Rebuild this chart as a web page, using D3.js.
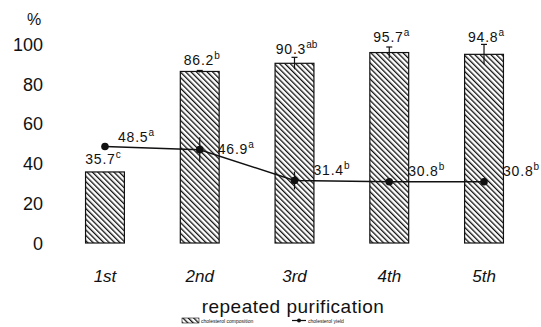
<!DOCTYPE html>
<html><head><meta charset="utf-8">
<script src="https://cdn.jsdelivr.net/npm/d3@7"></script>
<style>
body{margin:0;background:#fff;}
text{font-family:"Liberation Sans",Arial,sans-serif;fill:#111;}
</style></head>
<body>
<svg id="c" width="541" height="327"></svg>
<script>
const categories = ["1st","2nd","3rd","4th","5th"];
const compositionValues = [35.7, 86.2, 90.3, 95.7, 94.8];
const compositionErrors = [0, 0.5, 3, 2.8, 5];
const compositionLetters = ["c","b","ab","a","a"];
const yieldValues = [48.5, 46.9, 31.4, 30.8, 30.8];
const yieldErrors = [1, 6.3, 4.5, 1.5, 1.5];
const yieldLetters = ["a","a","b","b","b"];
const yTicks = [0,20,40,60,80,100];
const xTitle = "repeated purification";
const yUnit = "%";
const legendLabels = ["cholesterol composition","cholesterol yield"];

const svg = d3.select("#c");
const defs = svg.append("defs");
const pat = defs.append("pattern").attr("id","hatch").attr("patternUnits","userSpaceOnUse")
  .attr("width",3.8).attr("height",3.8).attr("patternTransform","rotate(-45)");
pat.append("rect").attr("width",3.8).attr("height",3.8).attr("fill","#fff");
pat.append("line").attr("x1",0).attr("y1",0).attr("x2",0).attr("y2",3.8).attr("stroke","#111").attr("stroke-width",2.6);

const x = d3.scaleBand().domain(categories).range([57.6,531.4]).paddingInner(0.59).paddingOuter(0.295);
const y = d3.scaleLinear().domain([0,100]).range([243,44]);
const cx = d => x(d) + x.bandwidth()/2;

// y axis labels (no line)
const yAxis = d3.axisLeft(y).tickValues(yTicks).tickSize(0).tickPadding(0);
const ga = svg.append("g").attr("transform","translate(43,0)").call(yAxis);
ga.select(".domain").remove();
ga.selectAll("text").style("font-size","18px").attr("fill","#111").attr("dy","0.35em");
svg.append("text").attr("x",34).attr("y",25).attr("text-anchor","middle").style("font-size","16px").text(yUnit);

// x axis labels
const xAxis = d3.axisBottom(x).tickSize(0).tickPadding(0);
const gx = svg.append("g").attr("transform","translate(0,282)").call(xAxis);
gx.select(".domain").remove();
gx.selectAll("text").style("font-size","17px").style("font-style","italic").attr("fill","#111").attr("dy","0");

// bars
svg.selectAll("rect.bar").data(categories).join("rect").attr("class","bar")
  .attr("x",d=>x(d)).attr("width",x.bandwidth())
  .attr("y",(d,i)=>y(compositionValues[i])).attr("height",(d,i)=>y(0)-y(compositionValues[i]))
  .attr("fill","url(#hatch)").attr("stroke","#111").attr("stroke-width",1.2);

// bar error bars
categories.forEach((c,i)=>{
  const e = compositionErrors[i]; if(!e) return;
  const v = compositionValues[i];
  svg.append("line").attr("x1",cx(c)).attr("x2",cx(c)).attr("y1",y(v+e)).attr("y2",y(v-e)).attr("stroke","#111").attr("stroke-width",1.2);
  svg.append("line").attr("x1",cx(c)-3).attr("x2",cx(c)+3).attr("y1",y(v+e)).attr("y2",y(v+e)).attr("stroke","#111").attr("stroke-width",1.2);
});

// line
const line = d3.line().x((d,i)=>cx(categories[i])).y(d=>y(d));
svg.append("path").datum(yieldValues).attr("d",line).attr("fill","none").attr("stroke","#111").attr("stroke-width",1.5);
categories.forEach((c,i)=>{
  const e = yieldErrors[i], v = yieldValues[i];
  svg.append("line").attr("x1",cx(c)).attr("x2",cx(c)).attr("y1",y(v+e)).attr("y2",y(v-e)).attr("stroke","#111").attr("stroke-width",1.2);
});
svg.selectAll("circle.pt").data(yieldValues).join("circle").attr("class","pt")
  .attr("cx",(d,i)=>cx(categories[i])).attr("cy",d=>y(d)).attr("r",3.8).attr("fill","#111");

function label(xp, yp, val, sup, anchor){
  const t = svg.append("text").attr("x",xp).attr("y",yp).attr("text-anchor",anchor)
    .style("font-size","14px").style("letter-spacing","0.8px");
  t.append("tspan").text(val.toFixed(1));
  t.append("tspan").attr("dy",-6).style("font-size","10px").style("letter-spacing","0px").text(sup);
}
// bar labels
const barLabelGap = [8, 6, 9, 11, 12];
categories.forEach((c,i)=>{
  label(cx(c)+ (i===0?-2:2), y(compositionValues[i]) - barLabelGap[i], compositionValues[i], compositionLetters[i], "middle");
});
// line labels
categories.forEach((c,i)=>{
  const v = yieldValues[i];
  if(i===0) label(cx(c)+13, y(v)-4, v, yieldLetters[i], "start");
  else if(i===1) label(cx(c)+18, y(v)+4, v, yieldLetters[i], "start");
  else label(cx(c)+19, y(v)-6, v, yieldLetters[i], "start");
});

// x title
svg.append("text").attr("x",293).attr("y",313).attr("text-anchor","middle").style("font-size","19px").style("letter-spacing","0.5px").text(xTitle);

// legend
const lg = svg.append("g").attr("transform","translate(182,318)");
lg.append("rect").attr("x",0).attr("y",0).attr("width",17).attr("height",5).attr("fill","url(#hatch)").attr("stroke","#111").attr("stroke-width",0.6);
lg.append("text").attr("x",19).attr("y",5).style("font-size","5px").attr("fill","#444").text(legendLabels[0]);
lg.append("line").attr("x1",110).attr("x2",124).attr("y1",2.5).attr("y2",2.5).attr("stroke","#111").attr("stroke-width",1.2);
lg.append("circle").attr("cx",117).attr("cy",2.5).attr("r",2).attr("fill","#111");
lg.append("text").attr("x",126).attr("y",5).style("font-size","5px").attr("fill","#444").text(legendLabels[1]);
</script>
</body></html>
